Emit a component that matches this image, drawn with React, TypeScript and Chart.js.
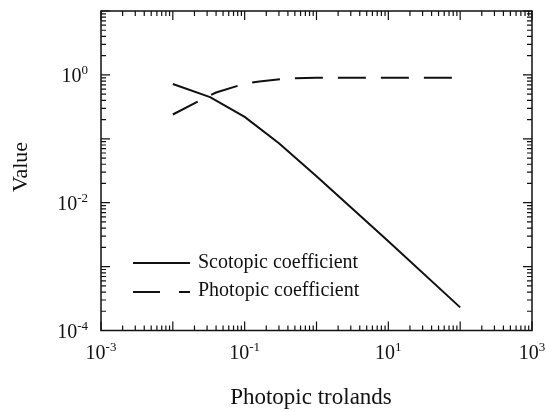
import React, { useEffect, useRef } from "react";
import { Chart, registerables } from "chart.js";

Chart.register(...registerables);

// Scotopic coefficient vs. retinal illuminance
const scotopicX = [0.01, 0.033, 0.1, 0.3, 1, 3, 10, 100];
const scotopicY = [0.72, 0.45, 0.22, 0.085, 0.026, 0.0085, 0.0025, 0.00023];

// Photopic coefficient vs. retinal illuminance
const photopicX = [0.01, 0.024, 0.04, 0.1, 0.16, 0.4, 1, 10, 100];
const photopicY = [0.24, 0.4, 0.53, 0.73, 0.79, 0.88, 0.9, 0.9, 0.9];

// Decade exponents used for the tick labels
const xDecades = [-3, -2, -1, 0, 1, 2, 3];
const xLabelExps = [-3, -1, 1, 3];
const yDecades = [-4, -3, -2, -1, 0, 1];
const yLabelExps = [-4, -2, 0];

const seriesNames = ["Scotopic coefficient", "Photopic coefficient"];
const xTitle = "Photopic trolands";
const yTitle = "Value";

const FONT = '"Liberation Serif", "Times New Roman", "DejaVu Serif", serif';
const INK = "#111";
const DASH = [28, 15];

function drawPow(ctx: CanvasRenderingContext2D, exp: number, x: number, baseY: number, align: "center" | "right") {
  const base = "10";
  const sup = String(exp);
  ctx.font = `20px ${FONT}`;
  const wb = ctx.measureText(base).width;
  ctx.font = `13px ${FONT}`;
  const ws = ctx.measureText(sup).width;
  const total = wb + ws;
  const left = align === "center" ? x - total / 2 : x - total;
  ctx.textAlign = "left";
  ctx.textBaseline = "alphabetic";
  ctx.font = `20px ${FONT}`;
  ctx.fillText(base, left, baseY);
  ctx.font = `13px ${FONT}`;
  ctx.fillText(sup, left + wb, baseY - 8);
}

const framePlugin = {
  id: "framePlugin",
  afterDraw(chart: any) {
    const ctx: CanvasRenderingContext2D = chart.ctx;
    const { left, right, top, bottom } = chart.chartArea;
    const xs = chart.scales.x;
    const ys = chart.scales.y;
    ctx.save();
    ctx.strokeStyle = INK;
    ctx.fillStyle = INK;
    ctx.lineWidth = 1.5;
    ctx.setLineDash([]);
    ctx.strokeRect(left, top, right - left, bottom - top);

    const major = 9;
    const minor = 5;
    ctx.lineWidth = 1.2;
    ctx.beginPath();
    // x ticks on bottom and top edges, pointing inward
    xDecades.forEach((e, i) => {
      const v = Math.pow(10, e);
      const px = xs.getPixelForValue(v);
      ctx.moveTo(px, bottom);
      ctx.lineTo(px, bottom - major);
      ctx.moveTo(px, top);
      ctx.lineTo(px, top + major);
      if (i < xDecades.length - 1) {
        for (let k = 2; k <= 9; k++) {
          const p = xs.getPixelForValue(k * v);
          ctx.moveTo(p, bottom);
          ctx.lineTo(p, bottom - minor);
          ctx.moveTo(p, top);
          ctx.lineTo(p, top + minor);
        }
      }
    });
    // y ticks on left and right edges, pointing inward
    yDecades.forEach((e, i) => {
      const v = Math.pow(10, e);
      const py = ys.getPixelForValue(v);
      ctx.moveTo(left, py);
      ctx.lineTo(left + major, py);
      ctx.moveTo(right, py);
      ctx.lineTo(right - major, py);
      if (i < yDecades.length - 1) {
        for (let k = 2; k <= 9; k++) {
          const p = ys.getPixelForValue(k * v);
          ctx.moveTo(left, p);
          ctx.lineTo(left + minor, p);
          ctx.moveTo(right, p);
          ctx.lineTo(right - minor, p);
        }
      }
    });
    ctx.stroke();

    // tick labels
    xLabelExps.forEach((e) => {
      drawPow(ctx, e, xs.getPixelForValue(Math.pow(10, e)), bottom + 28, "center");
    });
    yLabelExps.forEach((e) => {
      drawPow(ctx, e, left - 13, ys.getPixelForValue(Math.pow(10, e)) + 7.5, "right");
    });

    // axis titles
    ctx.font = `23px ${FONT}`;
    ctx.textAlign = "center";
    ctx.textBaseline = "alphabetic";
    ctx.fillText(xTitle, 311, 404);
    ctx.save();
    ctx.translate(27, 167);
    ctx.rotate(-Math.PI / 2);
    ctx.font = `22px ${FONT}`;
    ctx.fillText(yTitle, 0, 0);
    ctx.restore();

    // legend
    ctx.lineWidth = 2;
    ctx.beginPath();
    ctx.moveTo(133, 263);
    ctx.lineTo(190, 263);
    ctx.stroke();
    ctx.beginPath();
    ctx.moveTo(133, 292);
    ctx.lineTo(160, 292);
    ctx.moveTo(179, 292);
    ctx.lineTo(190, 292);
    ctx.stroke();
    ctx.font = `20px ${FONT}`;
    ctx.textAlign = "left";
    ctx.textBaseline = "middle";
    ctx.fillText(seriesNames[0], 198, 263);
    ctx.fillText(seriesNames[1], 198, 291);
    ctx.restore();
  },
};

export default function App() {
  const ref = useRef<HTMLCanvasElement | null>(null);
  useEffect(() => {
    if (!ref.current) return;
    const chart = new Chart(ref.current, {
      type: "line",
      data: {
        datasets: [
          {
            label: seriesNames[0],
            data: scotopicX.map((x, i) => ({ x, y: scotopicY[i] })),
            borderColor: INK,
            borderWidth: 2,
            pointRadius: 0,
            tension: 0,
            fill: false,
          },
          {
            label: seriesNames[1],
            data: photopicX.map((x, i) => ({ x, y: photopicY[i] })),
            borderColor: INK,
            borderWidth: 2,
            borderDash: DASH,
            pointRadius: 0,
            tension: 0,
            fill: false,
          },
        ],
      },
      options: {
        animation: false,
        responsive: false,
        devicePixelRatio: 1,
        layout: { padding: { left: 101, right: 14, top: 11, bottom: 81.5 } },
        plugins: { legend: { display: false }, tooltip: { enabled: false } },
        scales: {
          x: { type: "logarithmic", min: 1e-3, max: 1e3, display: false },
          y: { type: "logarithmic", min: 1e-4, max: 10, display: false },
        },
      },
      plugins: [framePlugin],
    } as any);
    return () => chart.destroy();
  }, []);
  return (
    <div style={{ position: "absolute", left: 0, top: 0, width: 546, height: 412, background: "#fff" }}>
      <canvas ref={ref} width={546} height={412} />
    </div>
  );
}
